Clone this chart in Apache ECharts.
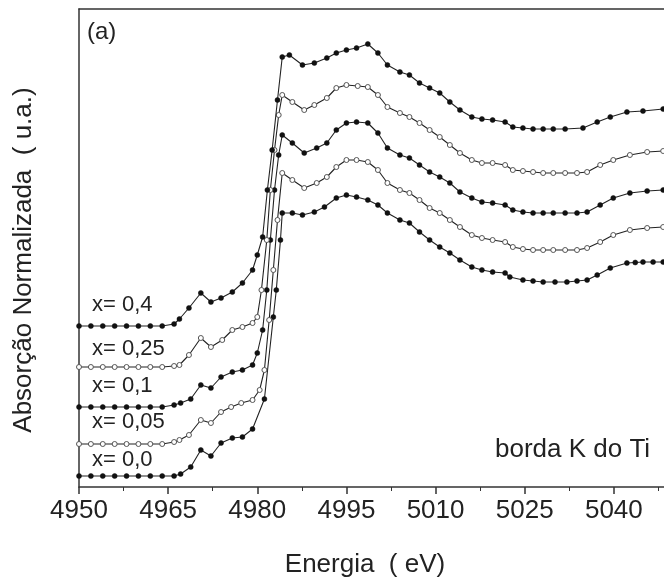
<!DOCTYPE html>
<html>
<head>
<meta charset="utf-8">
<script src="https://cdn.jsdelivr.net/npm/echarts@6/dist/echarts.min.js"></script>
<style>
  html, body { margin: 0; padding: 0; background: #fff; }
  #chart { width: 664px; height: 582px; }
</style>
</head>
<body>
<div id="chart"></div>
<script>
// energia (eV) e absorcao normalizada (u.a.)
var xTickLabels = [4950, 4965, 4980, 4995, 5010, 5025, 5040];
var seriesNames = ['x= 0,0', 'x= 0,05', 'x= 0,1', 'x= 0,25', 'x= 0,4'];

var x00 = [
  [4950, 0.11], [4952, 0.11], [4954, 0.11], [4956, 0.11], [4958, 0.11], [4960, 0.11], [4962, 0.11], [4964, 0.11], [4966, 0.11],
  [4967.1, 0.13], [4968.8, 0.20], [4970.5, 0.37], [4972.2, 0.31], [4973.9, 0.44], [4975.8, 0.49], [4977.5, 0.50],
  [4979.2, 0.58], [4981.2, 0.88], [4982.7, 1.70], [4983.2, 1.97], [4983.9, 2.47], [4984.2, 2.74],
  [4985.9, 2.74], [4987.6, 2.72], [4989.6, 2.75], [4991.3, 2.80], [4993.3, 2.89], [4995.0, 2.92], [4996.7, 2.90],
  [4998.6, 2.87], [5000.3, 2.82], [5001.9, 2.74], [5004.0, 2.67], [5005.6, 2.64], [5007.3, 2.55], [5009.0, 2.47],
  [5010.7, 2.40], [5012.4, 2.34], [5014.1, 2.27], [5016.1, 2.20], [5017.8, 2.17], [5019.6, 2.15], [5021.7, 2.14],
  [5022.5, 2.10], [5024.7, 2.07], [5026.4, 2.06], [5028.1, 2.05], [5030.1, 2.05], [5032.1, 2.05], [5033.8, 2.06],
  [5035.5, 2.07], [5037.2, 2.12], [5039.4, 2.19], [5042.2, 2.24], [5043.6, 2.245], [5044.9, 2.25], [5046.6, 2.25], [5048.3, 2.25]
];

var x005 = [
  [4950, 0.43], [4952, 0.43], [4954, 0.43], [4956, 0.43], [4958, 0.43], [4960, 0.43], [4962, 0.43], [4964, 0.43],
  [4966.0, 0.45], [4966.9, 0.47], [4968.5, 0.52], [4970.5, 0.67], [4972.2, 0.64], [4973.9, 0.75], [4975.6, 0.80],
  [4977.3, 0.84], [4979.2, 0.87], [4980.4, 0.97], [4981.2, 1.17], [4982.0, 1.67], [4982.7, 2.17], [4983.4, 2.67],
  [4984.2, 3.14], [4985.9, 3.07], [4987.9, 2.99], [4990.0, 3.04], [4991.7, 3.10], [4993.3, 3.20], [4995.0, 3.27],
  [4996.7, 3.27], [4998.6, 3.25], [5000.3, 3.17], [5001.9, 3.04], [5004.0, 2.97], [5005.6, 2.94], [5007.3, 2.87],
  [5009.0, 2.79], [5010.7, 2.74], [5012.4, 2.67], [5014.1, 2.60], [5016.1, 2.52], [5017.8, 2.49], [5019.6, 2.47],
  [5021.7, 2.45], [5023.0, 2.40], [5024.7, 2.38], [5026.4, 2.37], [5028.1, 2.37], [5029.8, 2.37], [5031.8, 2.37],
  [5033.8, 2.37], [5035.5, 2.39], [5037.7, 2.45], [5039.9, 2.52], [5042.7, 2.57], [5045.6, 2.59], [5048.3, 2.60]
];

var x01 = [
  [4950, 0.80], [4952, 0.80], [4954, 0.80], [4956, 0.80], [4958, 0.80], [4960, 0.80], [4962, 0.80], [4964, 0.80],
  [4966.0, 0.82], [4967.1, 0.84], [4968.8, 0.88], [4970.5, 1.02], [4972.2, 0.99], [4973.9, 1.10], [4975.8, 1.15],
  [4977.5, 1.17], [4979.2, 1.22], [4980.0, 1.34], [4980.9, 1.57], [4981.6, 1.97], [4982.2, 2.47], [4982.9, 2.97],
  [4983.6, 3.32], [4984.2, 3.52], [4985.9, 3.44], [4987.9, 3.34], [4990.0, 3.39], [4991.7, 3.44], [4993.3, 3.57],
  [4995.0, 3.64], [4996.7, 3.65], [4998.6, 3.64], [5000.3, 3.54], [5001.9, 3.39], [5004.0, 3.32], [5005.6, 3.29],
  [5007.3, 3.22], [5009.0, 3.15], [5010.7, 3.10], [5012.4, 3.04], [5014.1, 2.95], [5016.1, 2.89], [5017.8, 2.85],
  [5019.6, 2.84], [5021.7, 2.82], [5023.0, 2.77], [5024.7, 2.75], [5026.4, 2.74], [5028.1, 2.74], [5029.8, 2.74],
  [5031.8, 2.74], [5033.8, 2.74], [5035.5, 2.75], [5037.7, 2.82], [5039.9, 2.89], [5042.7, 2.94], [5045.6, 2.96], [5048.3, 2.97]
];

var x025 = [
  [4950, 1.20], [4952, 1.20], [4954, 1.20], [4956, 1.20], [4958, 1.20], [4960, 1.20], [4962, 1.20], [4964, 1.20],
  [4966.0, 1.21], [4966.9, 1.22], [4968.5, 1.32], [4970.5, 1.49], [4972.2, 1.40], [4974.1, 1.47], [4975.8, 1.57],
  [4977.5, 1.60], [4979.2, 1.64], [4980.0, 1.70], [4980.7, 1.97], [4981.6, 2.47], [4982.2, 2.97], [4982.9, 3.37],
  [4983.6, 3.72], [4984.2, 3.92], [4985.9, 3.85], [4987.9, 3.77], [4989.6, 3.82], [4991.7, 3.89], [4993.3, 3.99],
  [4995.0, 4.02], [4996.9, 4.01], [4998.6, 4.00], [5000.3, 3.92], [5001.9, 3.80], [5004.0, 3.74], [5005.6, 3.70],
  [5007.3, 3.64], [5009.0, 3.57], [5010.7, 3.50], [5012.4, 3.42], [5014.1, 3.34], [5016.1, 3.27], [5017.8, 3.24],
  [5019.6, 3.24], [5021.7, 3.22], [5023.0, 3.17], [5024.7, 3.16], [5026.4, 3.15], [5028.1, 3.14], [5029.8, 3.14],
  [5031.8, 3.14], [5033.8, 3.14], [5035.5, 3.15], [5037.7, 3.22], [5039.9, 3.27], [5042.7, 3.32], [5045.6, 3.35], [5048.3, 3.36]
];

var x04 = [
  [4950, 1.61], [4952, 1.61], [4954, 1.61], [4956, 1.61], [4958, 1.61], [4960, 1.61], [4962, 1.61], [4964, 1.61],
  [4966.0, 1.63], [4966.9, 1.68], [4968.5, 1.79], [4970.5, 1.94], [4972.2, 1.85], [4973.9, 1.89], [4975.8, 1.95],
  [4977.5, 2.04], [4979.2, 2.17], [4980.0, 2.32], [4980.9, 2.50], [4981.7, 2.97], [4982.5, 3.37], [4983.4, 3.87],
  [4984.2, 4.30], [4985.4, 4.32], [4987.6, 4.22], [4989.6, 4.24], [4991.7, 4.29], [4993.3, 4.34], [4995.0, 4.37],
  [4996.7, 4.39], [4998.6, 4.43], [5000.3, 4.34], [5001.9, 4.22], [5004.0, 4.15], [5005.6, 4.12], [5007.3, 4.04],
  [5009.0, 3.99], [5010.7, 3.94], [5012.4, 3.85], [5014.1, 3.77], [5016.1, 3.70], [5017.8, 3.68], [5019.6, 3.67],
  [5021.7, 3.65], [5023.0, 3.60], [5024.7, 3.59], [5026.4, 3.58], [5028.1, 3.58], [5029.8, 3.58], [5031.8, 3.58],
  [5034.8, 3.59], [5037.2, 3.65], [5039.4, 3.70], [5042.2, 3.75], [5044.9, 3.76], [5048.3, 3.78]
];

var seriesData = [x00, x005, x01, x025, x04];
var openMarker = [false, true, false, true, false];

var myChart = echarts.init(document.getElementById('chart'));

var font = 'Liberation Sans, Arial, sans-serif';

var series = seriesData.map(function (d, i) {
  return {
    name: seriesNames[i],
    type: 'line',
    data: d,
    symbol: 'circle',
    symbolSize: 5,
    showAllSymbol: true,
    lineStyle: { color: '#222', width: 1.1 },
    itemStyle: openMarker[i]
      ? { color: '#fff', borderColor: '#555', borderWidth: 1 }
      : { color: '#111', borderColor: '#111', borderWidth: 0.5 },
    emphasis: { disabled: true },
    z: 2 + i
  };
});

var labelY = [461, 423, 387, 350, 306];
var graphics = seriesNames.map(function (n, i) {
  return {
    type: 'text', left: 92, top: labelY[i] - 12,
    style: { text: n, font: '22px ' + font, fill: '#222' }
  };
});
graphics.push({
  type: 'text', left: 87, top: 20,
  style: { text: '(a)', font: '24px ' + font, fill: '#222' }
});
graphics.push({
  type: 'text', left: 495, top: 437,
  style: { text: 'borda K do Ti', font: '26px ' + font, fill: '#222' }
});

var option = {
  animation: false,
  backgroundColor: '#fff',
  // a grade passa da borda direita: o eixo original foi cortado em ~5048 eV
  grid: { left: 79, top: 9, width: 624, bottom: 95, containLabel: false, outerBoundsMode: 'none' },
  xAxis: [{
    type: 'value',
    min: 4950,
    max: 5055,
    interval: 15,
    name: 'Energia  ( eV)',
    nameLocation: 'middle',
    nameGap: 65,
    nameTextStyle: { fontFamily: font, fontSize: 26, color: '#222', padding: [0, 52, 0, 0] },
    axisLine: { show: true, lineStyle: { color: '#333', width: 1.5 } },
    axisTick: { show: true, inside: false, length: 7, lineStyle: { color: '#333', width: 1.5 } },
    minorTick: { show: true, splitNumber: 2, length: 4, lineStyle: { color: '#333', width: 1 } },
    axisLabel: {
      margin: 11,
      fontFamily: font, fontSize: 26, color: '#222',
      formatter: function (v) { return xTickLabels.indexOf(v) >= 0 ? String(v) : ''; }
    },
    splitLine: { show: false }
  }, {
    type: 'value',
    position: 'top',
    min: 4950,
    max: 5055,
    axisLine: { show: true, onZero: false, lineStyle: { color: '#333', width: 1.5 } },
    axisTick: { show: false },
    axisLabel: { show: false },
    splitLine: { show: false }
  }],
  yAxis: {
    type: 'value',
    min: 0,
    max: 4.78,
    name: 'Absorção Normalizada  ( u.a.)',
    nameLocation: 'middle',
    nameGap: 42,
    nameTextStyle: { fontFamily: font, fontSize: 26, color: '#222', padding: [0, 24, 0, 0] },
    axisLine: { show: true, lineStyle: { color: '#333', width: 1.5 } },
    axisTick: { show: false },
    axisLabel: { show: false },
    splitLine: { show: false }
  },
  graphic: graphics,
  series: series
};

myChart.setOption(option);
window.addEventListener('resize', function () {
  myChart.resize();
});
</script>
</body>
</html>
